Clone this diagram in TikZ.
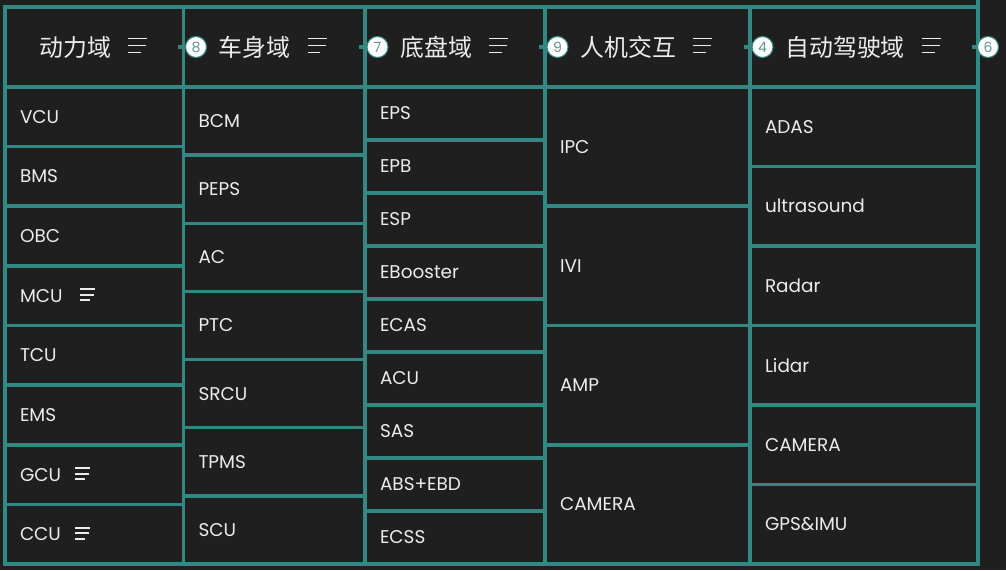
\documentclass[tikz,border=0pt]{standalone}
\usepackage{fontspec}
\setmainfont{Poppins}
\newfontfamily\cjkfont{Noto Sans CJK SC}
\usepackage{xcolor}
\definecolor{panel_black}{RGB}{31,31,31}
\definecolor{grid_teal}{RGB}{50,137,131}
\definecolor{label_white}{RGB}{236,236,236}
\definecolor{badge_teal}{RGB}{96,150,148}
\usepackage{tikz}
\usetikzlibrary{positioning}
\tikzstyle{header} = [
    rectangle, draw=grid_teal, line width=2pt, outer sep=0pt,
    minimum height=1.6cm, inner sep=0pt,
]
\tikzstyle{title} = [inner sep=0pt, text=label_white, font=\cjkfont\fontsize{13.6}{16}\selectfont]
\tikzstyle{cell} = [
    rectangle, draw=grid_teal, line width=2pt, outer sep=0pt,
    inner xsep=0.3cm, inner ysep=0pt, align=left,
    text=label_white, font=\fontsize{10.5}{12}\selectfont,
]
\tikzstyle{power_cell} = [cell, minimum width=3.57cm, text width=2.97cm, minimum height=1.1925cm]
\tikzstyle{body_cell} = [cell, minimum width=3.63cm, text width=3.03cm, minimum height=1.3629cm]
\tikzstyle{chassis_cell} = [cell, minimum width=3.6cm, text width=3cm, minimum height=1.06cm]
\tikzstyle{hmi_cell} = [cell, minimum width=4.1cm, text width=3.5cm, minimum height=2.385cm]
\tikzstyle{adas_cell} = [cell, minimum width=4.56cm, text width=3.96cm, minimum height=1.59cm]
\tikzstyle{badge} = [
    circle, minimum size=0.42cm, inner sep=0pt, draw=grid_teal, line width=0.6pt,
    fill=white, text=badge_teal, font=\fontsize{8}{9}\selectfont
]
\tikzstyle{link} = [grid_teal, line width=2pt]
\tikzstyle{icon_line} = [label_white, line width=1.1pt]
\tikzset{
    menu/.pic={
        \draw[icon_line] (0,0.14) -- (0.38,0.14);
        \draw[icon_line] (0,0) -- (0.36,0);
        \draw[icon_line] (0,-0.14) -- (0.25,-0.14);
    }
}

\begin{document}
\begin{tikzpicture}

    \useasboundingbox (0,0) rectangle (20.12,-11.4);
    \fill[panel_black] (0,0) rectangle (20.12,-11.4);

    % header nodes
    \node[header, minimum width=3.57cm, anchor=north west] (hdr_power) at (0.1,-0.14) {};
    \node[header, minimum width=3.63cm] (hdr_body) [right=0cm of hdr_power] {};
    \node[header, minimum width=3.6cm] (hdr_chassis) [right=0cm of hdr_body] {};
    \node[header, minimum width=4.1cm] (hdr_hmi) [right=0cm of hdr_chassis] {};
    \node[header, minimum width=4.56cm] (hdr_adas) [right=0cm of hdr_hmi] {};

    \node[title] (power_title) [right=0.68cm of hdr_power.west] {动力域};
    \node[title] (body_title) [right=0.7cm of hdr_body.west] {车身域};
    \node[title] (chassis_title) [right=0.7cm of hdr_chassis.west] {底盘域};
    \node[title] (hmi_title) [right=0.7cm of hdr_hmi.west] {人机交互};
    \node[title] (adas_title) [right=0.7cm of hdr_adas.west] {自动驾驶域};

    \pic at ([xshift=0.34cm, yshift=0.03cm]power_title.east) {menu};
    \pic at ([xshift=0.34cm, yshift=0.03cm]body_title.east) {menu};
    \pic at ([xshift=0.34cm, yshift=0.03cm]chassis_title.east) {menu};
    \pic at ([xshift=0.34cm, yshift=0.03cm]hmi_title.east) {menu};
    \pic at ([xshift=0.34cm, yshift=0.03cm]adas_title.east) {menu};

    % power domain nodes
    \node[power_cell] (vcu) [below=0cm of hdr_power] {VCU};
    \node[power_cell] (bms) [below=0cm of vcu] {BMS};
    \node[power_cell] (obc) [below=0cm of bms] {OBC};
    \node[power_cell] (mcu) [below=0cm of obc] {MCU};
    \node[power_cell] (tcu) [below=0cm of mcu] {TCU};
    \node[power_cell] (ems) [below=0cm of tcu] {EMS};
    \node[power_cell] (gcu) [below=0cm of ems] {GCU};
    \node[power_cell] (ccu) [below=0cm of gcu] {CCU};
    \pic[scale=0.8] at ([xshift=1.5cm, yshift=0.02cm]mcu.west) {menu};
    \pic[scale=0.8] at ([xshift=1.4cm, yshift=0.02cm]gcu.west) {menu};
    \pic[scale=0.8] at ([xshift=1.4cm, yshift=0.02cm]ccu.west) {menu};

    % body domain nodes
    \node[body_cell] (bcm) [below=0cm of hdr_body] {BCM};
    \node[body_cell] (peps) [below=0cm of bcm] {PEPS};
    \node[body_cell] (ac) [below=0cm of peps] {AC};
    \node[body_cell] (ptc) [below=0cm of ac] {PTC};
    \node[body_cell] (srcu) [below=0cm of ptc] {SRCU};
    \node[body_cell] (tpms) [below=0cm of srcu] {TPMS};
    \node[body_cell] (scu) [below=0cm of tpms] {SCU};

    % chassis domain nodes
    \node[chassis_cell] (eps) [below=0cm of hdr_chassis] {EPS};
    \node[chassis_cell] (epb) [below=0cm of eps] {EPB};
    \node[chassis_cell] (esp) [below=0cm of epb] {ESP};
    \node[chassis_cell] (ebooster) [below=0cm of esp] {EBooster};
    \node[chassis_cell] (ecas) [below=0cm of ebooster] {ECAS};
    \node[chassis_cell] (acu) [below=0cm of ecas] {ACU};
    \node[chassis_cell] (sas) [below=0cm of acu] {SAS};
    \node[chassis_cell] (abs_ebd) [below=0cm of sas] {ABS+EBD};
    \node[chassis_cell] (ecss) [below=0cm of abs_ebd] {ECSS};

    % hmi nodes
    \node[hmi_cell] (ipc) [below=0cm of hdr_hmi] {IPC};
    \node[hmi_cell] (ivi) [below=0cm of ipc] {IVI};
    \node[hmi_cell] (amp) [below=0cm of ivi] {AMP};
    \node[hmi_cell] (hmi_camera) [below=0cm of amp] {CAMERA};

    % adas domain nodes
    \node[adas_cell] (adas) [below=0cm of hdr_adas] {ADAS};
    \node[adas_cell] (ultrasound) [below=0cm of adas] {ultrasound};
    \node[adas_cell] (radar) [below=0cm of ultrasound] {Radar};
    \node[adas_cell] (lidar) [below=0cm of radar] {Lidar};
    \node[adas_cell] (adas_camera) [below=0cm of lidar] {CAMERA};
    \node[adas_cell] (gps_imu) [below=0cm of adas_camera] {GPS\&IMU};

    % badges between headers
    \node[badge] (badge_body) at ([xshift=0.25cm]hdr_body.west) {8};
    \node[badge] (badge_chassis) at ([xshift=0.25cm]hdr_chassis.west) {7};
    \node[badge] (badge_hmi) at ([xshift=0.25cm]hdr_hmi.west) {9};
    \node[badge] (badge_adas) at ([xshift=0.25cm]hdr_adas.west) {4};
    \node[badge] (badge_next) at ([xshift=0.2cm]hdr_adas.east) {6};

    % links to badges
    \draw[link] ([xshift=-0.12cm]hdr_power.east) -- (badge_body);
    \draw[link] ([xshift=-0.12cm]hdr_body.east) -- (badge_chassis);
    \draw[link] ([xshift=-0.12cm]hdr_chassis.east) -- (badge_hmi);
    \draw[link] ([xshift=-0.12cm]hdr_hmi.east) -- (badge_adas);
    \draw[link] ([xshift=-0.12cm]hdr_adas.east) -- (badge_next);
    \draw[link] (hdr_adas.north east) -- ++(0,0.14);
\end{tikzpicture}
\end{document}
